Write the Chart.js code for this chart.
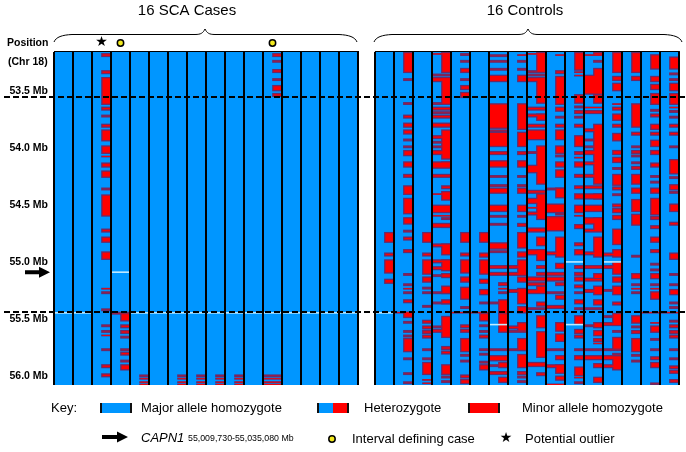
<!DOCTYPE html>
<html lang="en">
<head>
<meta charset="UTF-8">
<title>SCA cases and controls genotypes on chromosome 18</title>
<script src="https://cdn.jsdelivr.net/npm/chart.js"></script>
<style>
    body { margin: 0; background: #fff; }
    canvas { display: block; }
</style>
</head>
<body>
<canvas id="chart" width="686" height="452"></canvas>
<script>
// y axis, Mb
const yTicks = [53.5, 54.0, 54.5, 55.0, 55.5, 56.0];
const plotTop = 53.158;
const plotBottom = 56.08;
const dashedLines = [53.553, 55.44];
const capn1Mb = 55.09;

// markers above the case columns (column index)
const outlierCases = [2];
const intervalCases = [3, 11];

// case columns: right half = heterozygote, whole width = minor homozygote
const caseHet = [
    [], [],
    [[53.17,53.20],[53.32,53.35],[53.38,53.62],[53.64,53.67],[53.71,53.73],[53.79,53.82],[53.84,53.94],[53.98,54.05],[54.07,54.08],[54.13,54.17],[54.20,54.26],[54.35,54.37],[54.41,54.60],[54.71,54.74],[54.78,54.83],[54.91,54.98],[55.23,55.24],[55.26,55.28],[55.41,55.43],[55.55,55.57],[55.60,55.62],[55.64,55.65],[55.76,55.78],[55.90,55.93],[55.98,56.01]],
    [[55.45,55.52],[55.55,55.58],[55.60,55.63],[55.65,55.67],[55.76,55.78],[55.79,55.82],[55.86,55.88],[55.90,55.95]],
    [[55.99,56.01],[56.02,56.03],[56.05,56.06],[56.07,56.08]],
    [],
    [[55.99,56.01],[56.02,56.03],[56.05,56.06],[56.07,56.08]],
    [[55.99,56.01],[56.02,56.03],[56.05,56.06],[56.07,56.08]],
    [[55.99,56.01],[56.02,56.03],[56.05,56.06],[56.07,56.08]],
    [[55.99,56.01],[56.02,56.03],[56.05,56.06],[56.07,56.08]],
    [],
    [[53.17,53.20],[53.23,53.25],[53.31,53.34],[53.39,53.41],[53.45,53.50],[53.52,53.55]],
    [], [], [], []
];
const caseMinor = [
    [], [], [],
    [[55.44,55.46]],
    [], [], [], [], [], [], [],
    [[55.99,56.01],[56.02,56.03],[56.05,56.06],[56.07,56.08]],
    [], [], [], []
];

// control columns
const controlHet = [
    [[54.74,54.83],[54.92,54.95],[54.98,55.10],[55.15,55.19]],
    [[53.16,53.34],[53.39,53.41],[53.60,53.62],[53.71,53.74],[53.78,53.82],[53.84,53.88],[53.92,53.94],[53.98,54.00],[54.02,54.07],[54.12,54.17],[54.23,54.26],[54.33,54.41],[54.44,54.58],[54.61,54.67],[54.72,54.74],[54.78,54.81],[54.89,54.92],[55.10,55.12],[55.19,55.21],[55.23,55.24],[55.26,55.28],[55.33,55.36],[55.44,55.49],[55.52,55.54],[55.60,55.62],[55.64,55.66],[55.67,55.79],[55.84,55.86],[55.97,55.99],[56.05,56.07]],
    [[54.74,54.83],[54.92,54.95],[54.98,55.11],[55.13,55.18],[55.22,55.24],[55.26,55.28],[55.38,55.40],[55.51,55.54],[55.56,55.59],[55.60,55.63],[55.64,55.67],[55.76,55.78],[55.84,55.86],[55.88,55.99],[56.03,56.04],[56.06,56.07]],
    [[53.16,53.34],[53.38,53.62],[53.84,54.10],[54.12,54.16],[54.33,54.36],[54.38,54.46],[54.61,54.63],[54.68,54.70],[54.84,54.94],[54.98,55.08],[55.10,55.14],[55.21,55.28],[55.33,55.37],[55.476,55.665],[55.74,55.77],[55.78,55.81],[55.90,55.99],[56.00,56.02],[56.04,56.06]],
    [[53.17,53.19],[53.23,53.25],[53.30,53.34],[53.39,53.41],[53.45,53.49],[53.51,53.56],[54.74,54.83],[54.92,54.95],[54.98,55.10],[55.13,55.18],[55.22,55.33],[55.39,55.41],[55.55,55.58],[55.59,55.62],[55.67,55.79],[55.81,55.83],[55.86,55.88],[55.99,56.02],[56.03,56.07]],
    [[54.74,54.83],[54.92,54.96],[54.98,55.11],[55.15,55.19],[55.24,55.29],[55.35,55.37],[55.45,55.52],[55.55,55.57],[55.60,55.62],[55.64,55.67],[55.76,55.78],[55.80,55.82],[55.87,55.89],[55.90,55.95]],
    [[55.18,55.21],[55.23,55.24],[55.26,55.28],[55.33,55.46],[55.45,55.62],[55.88,55.93],[56.01,56.06]],
    [[53.18,53.19],[53.23,53.25],[53.30,53.32],[53.36,53.42],[53.61,53.84],[53.86,53.99],[54.03,54.06],[54.11,54.17],[54.24,54.26],[54.32,54.34],[54.35,54.40],[54.50,54.56],[54.59,54.61],[54.66,54.69],[54.74,54.88],[54.91,54.96],[54.98,55.12],[55.13,55.18],[55.23,55.37],[55.39,55.45],[55.53,55.61],[55.67,55.78],[55.81,55.93],[55.96,55.99],[56.00,56.02],[56.04,56.06]],
    [[53.16,53.34],[53.38,53.61],[53.70,53.76],[53.98,54.32],[54.40,54.63],[54.78,54.86],[54.89,54.99],[55.03,55.06],[55.09,55.12],[55.21,55.27],[55.35,55.39],[55.47,55.58],[55.61,55.84],[55.97,56.00]],
    [[53.18,53.19],[53.32,53.35],[53.37,53.62],[53.64,53.68],[53.72,53.74],[53.79,53.82],[53.84,53.93],[53.98,54.05],[54.06,54.08],[54.12,54.17],[54.19,54.26],[54.35,54.44],[54.57,54.59],[54.78,54.96],[55.01,55.06],[55.18,55.21],[55.29,55.33],[55.53,55.61],[55.63,55.70],[55.82,55.86],[55.90,55.98],[56.00,56.04]],
    [[53.16,53.32],[53.33,53.34],[53.36,53.37],[53.53,53.61],[53.63,53.65],[53.67,53.70],[53.72,53.74],[53.79,53.82],[53.89,53.99],[54.03,54.06],[54.08,54.09],[54.12,54.17],[54.23,54.26],[54.33,54.36],[54.40,54.45],[54.50,54.57],[54.59,54.60],[54.67,54.71],[54.83,54.86],[54.89,54.94],[55.03,55.06],[55.09,55.12],[55.13,55.17],[55.20,55.23],[55.26,55.28],[55.33,55.37],[55.40,55.42],[55.47,55.55],[55.59,55.63],[55.64,55.67],[55.76,55.78],[55.82,55.86],[55.92,56.00],[56.01,56.02],[56.05,56.07]],
    [[53.16,53.19],[53.23,53.25],[53.30,53.53],[53.53,53.61],[53.79,54.32],[54.40,54.45],[54.61,54.73],[54.78,54.96],[55.10,55.15],[55.21,55.29],[55.33,55.38],[55.53,55.58],[55.60,55.65],[55.67,55.70],[55.71,55.72],[55.89,55.93],[56.01,56.06]],
    [[53.16,53.34],[53.37,53.41],[53.43,53.50],[53.61,53.62],[53.64,53.67],[53.70,53.76],[53.79,53.82],[53.87,53.94],[54.02,54.06],[54.08,54.13],[54.17,54.19],[54.23,54.33],[54.34,54.37],[54.40,54.42],[54.49,54.52],[54.53,54.57],[54.59,54.63],[54.71,54.85],[54.89,54.96],[55.00,55.11],[55.13,55.18],[55.21,55.29],[55.35,55.38],[55.45,55.56],[55.60,55.62],[55.66,55.77],[55.80,55.82],[55.84,55.95]],
    [[53.16,53.34],[53.37,53.41],[53.61,53.82],[53.86,53.89],[53.98,54.00],[54.02,54.05],[54.06,54.08],[54.12,54.14],[54.16,54.19],[54.23,54.32],[54.35,54.40],[54.45,54.56],[54.58,54.68],[54.94,54.96],[55.10,55.15],[55.19,55.21],[55.23,55.24],[55.26,55.28],[55.47,55.54],[55.56,55.58],[55.60,55.63],[55.67,55.79],[55.81,55.83],[55.86,55.88]],
    [[53.18,53.31],[53.37,53.42],[53.44,53.49],[53.52,53.62],[53.66,53.68],[53.70,53.73],[53.79,53.84],[53.86,53.89],[53.93,53.99],[54.02,54.06],[54.13,54.17],[54.24,54.26],[54.29,54.31],[54.35,54.40],[54.44,54.59],[54.60,54.63],[54.68,54.71],[54.78,54.83],[54.89,54.92],[55.01,55.03],[55.06,55.08],[55.10,55.15],[55.19,55.21],[55.23,55.24],[55.26,55.33],[55.53,55.54],[55.56,55.62],[55.67,55.69],[55.76,55.78],[55.83,55.86],[55.88,55.93],[56.06,56.08]],
    [[53.20,53.31],[53.34,53.36],[53.39,53.41],[53.43,53.50],[53.52,53.62],[53.64,53.65],[53.67,53.69],[53.72,53.74],[53.79,53.82],[53.86,53.89],[53.98,54.00],[54.10,54.23],[54.25,54.27],[54.32,54.37],[54.38,54.40],[54.49,54.56],[54.65,54.68],[54.92,54.98],[55.10,55.12],[55.19,55.21],[55.24,55.29],[55.35,55.37],[55.39,55.41],[55.51,55.53],[55.55,55.58],[55.60,55.63],[55.64,55.67],[55.76,55.78],[55.84,55.86],[55.91,55.94],[55.95,55.98],[56.03,56.06]]
];
const controlMinor = [
    [], 
    [[55.44,55.45]],
    [],
    [[53.17,53.18],[53.35,53.37],[53.38,53.42],[53.60,53.62],[53.64,53.67],[53.68,53.70],[53.71,53.74],[53.78,53.82],[53.89,53.92],[53.94,53.96],[53.98,54.00],[54.02,54.06],[54.12,54.18],[54.23,54.26],[54.40,54.41],[54.50,54.57],[54.59,54.60],[54.66,54.70],[54.84,54.87],[54.98,55.01],[55.04,55.07],[55.11,55.13],[55.26,55.28],[55.35,55.37],[55.56,55.58],[55.59,55.62]],
    [[55.44,55.45]],
    [[55.44,55.45]],
    [[53.18,53.20],[53.23,53.25],[53.30,53.32],[53.36,53.42],[53.61,53.83],[53.84,53.86],[53.86,53.99],[54.03,54.06],[54.11,54.17],[54.24,54.26],[54.32,54.34],[54.35,54.40],[54.50,54.56],[54.59,54.61],[54.66,54.68],[54.83,54.89],[54.90,54.92],[55.03,55.06],[55.09,55.12],[55.35,55.37],[55.76,55.78],[55.82,55.87],[55.90,55.92],[55.96,55.99]],
    [[55.03,55.06],[55.09,55.12],[55.24,55.27],[55.56,55.59],[55.60,55.62],[55.76,55.78]],
    [[53.17,53.18],[53.32,53.34],[53.35,53.37],[53.38,53.42],[53.64,53.67],[53.70,53.73],[53.79,53.82],[53.84,53.93],[54.03,54.05],[54.15,54.22],[54.37,54.40],[54.44,54.49],[54.52,54.53],[54.56,54.59],[54.70,54.74],[54.89,54.94],[55.13,55.17],[55.18,55.21],[55.24,55.28],[55.40,55.42],[55.88,55.92]],
    [[54.35,54.37],[54.49,54.57],[54.60,54.63],[54.61,54.73],[54.91,54.94],[55.09,55.12],[55.13,55.17],[55.26,55.28],[55.38,55.41],[55.76,55.78],[55.90,55.93],[56.07,56.08]],
    [],
    [[53.18,53.19],[53.36,53.53],[53.64,53.65],[53.67,53.70],[53.83,53.86],[53.92,53.94],[53.98,54.00],[54.02,54.06],[54.12,54.15],[54.23,54.26],[54.33,54.36],[54.40,54.45],[54.50,54.56],[54.61,54.67],[54.71,54.74],[54.91,54.94],[55.03,55.06],[55.14,55.17],[55.24,55.27],[55.40,55.42],[55.55,55.57],[55.76,55.78],[55.82,55.86]],
    [[54.92,54.95],[55.03,55.06],[55.24,55.26],[55.47,55.49],[55.53,55.56],[55.76,55.78],[55.82,55.86],[55.90,55.93]],
    [],
    [[55.44,55.45]],
    [[55.44,55.45]]
];

// light hairlines, [column, Mb]
const caseWhite = [[3, 55.09], [0, 55.447], [1, 55.447], [4, 55.447], [5, 55.447], [6, 55.447], [7, 55.447], [8, 55.447], [9, 55.447], [10, 55.447], [11, 55.447], [12, 55.447], [13, 55.447], [14, 55.447], [15, 55.447]];
const controlWhite = [[0, 55.447], [10, 55.0], [12, 55.0], [6, 55.55], [10, 55.55]];

const columnCount = 16;
const controlStart = 16.89;
const xMax = 32.947;

const blue = '#0096ff';
const red = '#ff0000';
const edge = '#6a2a68';

const columns = Array.from({length: columnCount}, (_, i) => i);
const panelStarts = [0, controlStart];

function segPoints(lists, start, shift) {
    return lists.flatMap((segs, col) => segs.map(s => ({x: start + col + shift, y: s})));
}

const hetPoints = [...segPoints(caseHet, 0, 0.75), ...segPoints(controlHet, controlStart, 0.75)];
const minorPoints = [...segPoints(caseMinor, 0, 0.5), ...segPoints(controlMinor, controlStart, 0.5)];
const whitePoints = [
    ...caseWhite.map(([c, m]) => ({x: c + 0.5, y: [m - 0.004, m + 0.004]})),
    ...controlWhite.map(([c, m]) => ({x: controlStart + c + 0.5, y: [m - 0.004, m + 0.004]}))
];
const majorPoints = panelStarts.flatMap(s => columns.map(c => ({x: s + c + 0.5, y: [plotTop, plotBottom]})));
const boundaries = panelStarts.flatMap(s => [...columns, columnCount].map(c => s + c));

const sans = '"Liberation Sans", Arial, sans-serif';

function text(ctx, str, x, y, font, align) {
    ctx.font = font;
    ctx.textAlign = align || 'left';
    ctx.textBaseline = 'middle';
    ctx.fillStyle = '#000';
    ctx.fillText(str, x, y);
}

function brace(ctx, x0, x1, peak) {
    ctx.beginPath();
    ctx.moveTo(x0, 42);
    ctx.bezierCurveTo(x0 + 2, 37, x0 + 8, 35, x0 + 18, 34.5);
    ctx.lineTo(peak - 10, 34.5);
    ctx.bezierCurveTo(peak - 4, 34.5, peak - 2, 33, peak, 29);
    ctx.bezierCurveTo(peak + 2, 33, peak + 4, 34.5, peak + 10, 34.5);
    ctx.lineTo(x1 - 18, 34.5);
    ctx.bezierCurveTo(x1 - 8, 35, x1 - 2, 37, x1, 42);
    ctx.strokeStyle = '#000';
    ctx.lineWidth = 1;
    ctx.stroke();
}

function arrow(ctx, x0, x1, y) {
    ctx.fillStyle = '#000';
    ctx.beginPath();
    ctx.moveTo(x0, y - 2);
    ctx.lineTo(x1 - 11, y - 2);
    ctx.lineTo(x1 - 11, y - 5.5);
    ctx.lineTo(x1, y);
    ctx.lineTo(x1 - 11, y + 5.5);
    ctx.lineTo(x1 - 11, y + 2);
    ctx.lineTo(x0, y + 2);
    ctx.closePath();
    ctx.fill();
}

function dot(ctx, x, y) {
    ctx.beginPath();
    ctx.arc(x, y, 3.2, 0, Math.PI * 2);
    ctx.fillStyle = '#f2e91e';
    ctx.fill();
    ctx.strokeStyle = '#000';
    ctx.lineWidth = 1.5;
    ctx.stroke();
}

function swatch(ctx, x, y, left, right) {
    ctx.fillStyle = left;
    ctx.fillRect(x, y, 16, 10);
    ctx.fillStyle = right;
    ctx.fillRect(x + 16, y, 16, 10);
    ctx.fillStyle = '#111';
    ctx.fillRect(x, y, 2, 10);
    ctx.fillRect(x + 30, y, 2, 10);
}

// everything around the plot: headings, braces, markers, key
const annotations = {
    id: 'annotations',
    afterDraw(chart) {
        const {ctx, scales: {x, y}, chartArea} = chart;
        ctx.save();

        // top rule of both panels
        ctx.fillStyle = '#000';
        panelStarts.forEach(s => {
            const a = x.getPixelForValue(s);
            const b = x.getPixelForValue(s + columnCount);
            ctx.fillRect(a, chartArea.top - 1, b - a + 1, 1);
        });

        ctx.setLineDash([6, 3]);
        ctx.strokeStyle = '#000';
        ctx.lineWidth = 2;
        dashedLines.forEach(m => {
            const py = y.getPixelForValue(m);
            ctx.beginPath();
            ctx.moveTo(4, py);
            ctx.lineTo(686, py);
            ctx.stroke();
        });
        ctx.setLineDash([]);

        text(ctx, '16 SCA Cases', 187, 11, '15px ' + sans, 'center');
        text(ctx, '16 Controls', 525, 11, '15px ' + sans, 'center');
        text(ctx, 'Position', 7, 43, 'bold 10.5px ' + sans);
        text(ctx, '(Chr 18)', 8, 62, 'bold 10.5px ' + sans);
        brace(ctx, 54, 357, 205);
        brace(ctx, 374, 682, 528);

        outlierCases.forEach(c => text(ctx, '★', x.getPixelForValue(c + 0.5), 42, '14px "DejaVu Sans"', 'center'));
        intervalCases.forEach(c => dot(ctx, x.getPixelForValue(c + 0.5), 43));
        arrow(ctx, 25, 50, y.getPixelForValue(capn1Mb));

        // key
        text(ctx, 'Key:', 51, 408, '13px ' + sans);
        swatch(ctx, 100, 403, blue, blue);
        text(ctx, 'Major allele homozygote', 141, 408, '13px ' + sans);
        swatch(ctx, 317, 403, blue, red);
        text(ctx, 'Heterozygote', 364, 408, '13px ' + sans);
        swatch(ctx, 468, 403, red, red);
        text(ctx, 'Minor allele homozygote', 522, 408, '13px ' + sans);
        arrow(ctx, 102, 128, 437);
        text(ctx, 'CAPN1', 141, 438, 'italic 13px ' + sans);
        text(ctx, '55,009,730-55,035,080 Mb', 188, 439, '8.8px ' + sans);
        dot(ctx, 332, 439);
        text(ctx, 'Interval defining case', 352, 439, '13px ' + sans);
        text(ctx, '★', 506, 438, '14px "DejaVu Sans"', 'center');
        text(ctx, 'Potential outlier', 525, 439, '13px ' + sans);
        ctx.restore();
    }
};

new Chart(document.getElementById('chart'), {
    type: 'bar',
    plugins: [annotations],
    data: {
        // chart.js paints the last dataset first, so the top layer comes first here
        datasets: [
            {label: 'hairlines', data: whitePoints, backgroundColor: '#c4ecff', barThickness: 19},
            {label: 'Minor allele homozygote', data: minorPoints, backgroundColor: red, barThickness: 19, inflateAmount: -1},
            {label: 'Heterozygote', data: hetPoints, backgroundColor: red, barThickness: 9.5, inflateAmount: -1},
            {label: 'edge minor', data: minorPoints, backgroundColor: edge, barThickness: 19},
            {label: 'edge het', data: hetPoints, backgroundColor: edge, barThickness: 9.5},
            {label: 'Major allele homozygote', data: majorPoints, backgroundColor: blue, barThickness: 19}
        ]
    },
    options: {
        responsive: false,
        animation: false,
        events: [],
        layout: {padding: {top: 52, bottom: 67, right: 6, left: 0}},
        datasets: {bar: {grouped: false, borderWidth: 0}},
        plugins: {legend: {display: false}, tooltip: {enabled: false}},
        scales: {
            x: {
                type: 'linear',
                min: 0,
                max: xMax,
                offset: false,
                border: {display: false},
                grid: {offset: false, color: '#000', lineWidth: 2, drawTicks: false, z: 1},
                ticks: {display: false, autoSkip: false},
                afterBuildTicks(scale) { scale.ticks = boundaries.map(value => ({value})); },
                afterFit(scale) { scale.height = 0; }
            },
            y: {
                type: 'linear',
                reverse: true,
                min: plotTop,
                max: plotBottom,
                border: {display: false},
                grid: {display: false, drawTicks: false},
                ticks: {
                    autoSkip: false,
                    padding: 6,
                    color: '#000',
                    font: {family: sans, size: 10.5, weight: 'bold'},
                    callback: v => v.toFixed(1) + ' Mb'
                },
                afterBuildTicks(scale) { scale.ticks = yTicks.map(value => ({value})); },
                afterFit(scale) { scale.width = 54; }
            }
        }
    }
});
</script>
</body>
</html>
